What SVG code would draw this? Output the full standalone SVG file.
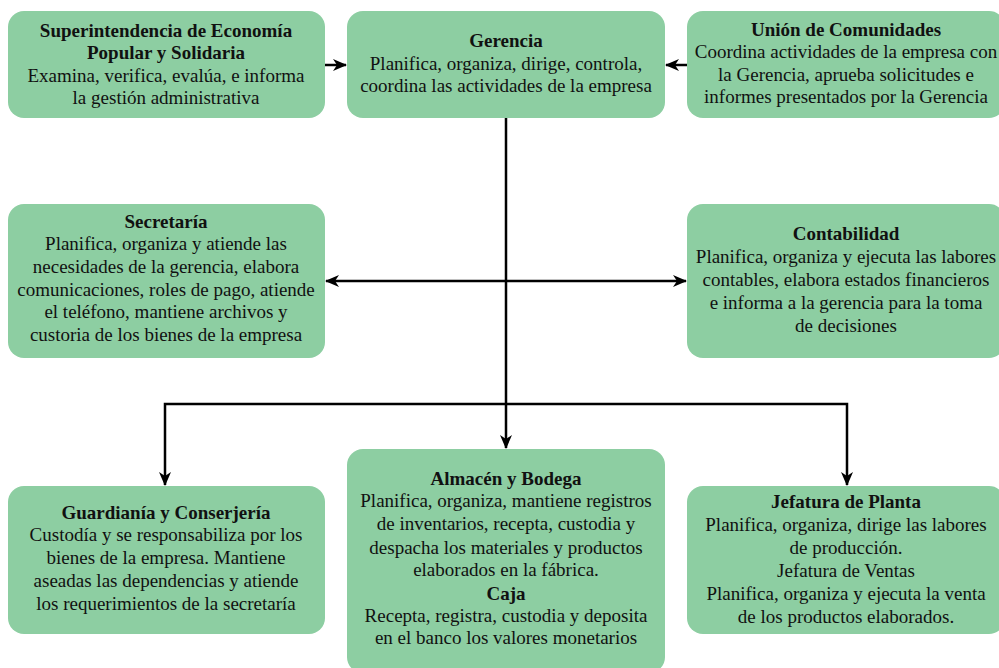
<svg xmlns="http://www.w3.org/2000/svg" width="999" height="668" viewBox="0 0 999 668">
<style>
.box{fill:#8dcea2;stroke:none}
text{font-size:19px;fill:#111;text-anchor:middle}
.b{font-weight:bold}
.c{fill:none;stroke:#000;stroke-width:2.5}
</style>
<defs>
<marker id="ah" viewBox="0 0 14 12" refX="13" refY="6" markerWidth="14" markerHeight="12" markerUnits="userSpaceOnUse" orient="auto-start-reverse">
<path d="M0,0 L14,6 L0,12 L4,6 Z" fill="#000"/>
</marker>
</defs>
<rect width="999" height="668" fill="#fff"/>
<g id="connectors">
<path class="c" d="M325,65 L346,65" marker-end="url(#ah)"/>
<path class="c" d="M687,65 L666,65" marker-end="url(#ah)"/>
<path class="c" d="M506,118 L506,448" marker-end="url(#ah)"/>
<path class="c" d="M326,281 L686,281" marker-start="url(#ah)" marker-end="url(#ah)"/>
<path class="c" d="M165,485 L165,404 L847,404 L847,485" marker-start="url(#ah)" marker-end="url(#ah)"/>
</g>
<g font-family="'Liberation Serif', 'Times New Roman', serif">
<g id="superintendencia">
<rect class="box" x="8" y="11" width="317" height="107" rx="16"/>
<text x="166" y="37" class="b">Superintendencia de Economía</text>
<text x="166" y="59" class="b">Popular y Solidaria</text>
<text x="166" y="82">Examina, verifica, evalúa, e informa</text>
<text x="166" y="104">la gestión administrativa</text>
</g>
<g id="gerencia">
<rect class="box" x="347" y="11" width="318" height="107" rx="16"/>
<text x="506" y="47" class="b">Gerencia</text>
<text x="506" y="70">Planifica, organiza, dirige, controla,</text>
<text x="506" y="92">coordina las actividades de la empresa</text>
</g>
<g id="union">
<rect class="box" x="687" y="11" width="318" height="107" rx="16"/>
<text x="846" y="36" class="b">Unión de Comunidades</text>
<text x="846" y="58">Coordina actividades de la empresa con</text>
<text x="846" y="81">la Gerencia, aprueba solicitudes e</text>
<text x="846" y="103">informes presentados por la Gerencia</text>
</g>
<g id="secretaria">
<rect class="box" x="8" y="204" width="317" height="154" rx="16"/>
<text x="166" y="228" class="b">Secretaría</text>
<text x="166" y="250">Planifica, organiza y atiende las</text>
<text x="166" y="273">necesidades de la gerencia, elabora</text>
<text x="166" y="296">comunicaciones, roles de pago, atiende</text>
<text x="166" y="318">el teléfono, mantiene archivos y</text>
<text x="166" y="341">custoria de los bienes de la empresa</text>
</g>
<g id="contabilidad">
<rect class="box" x="687" y="204" width="318" height="154" rx="16"/>
<text x="846" y="240" class="b">Contabilidad</text>
<text x="846" y="263">Planifica, organiza y ejecuta las labores</text>
<text x="846" y="286">contables, elabora estados financieros</text>
<text x="846" y="309">e informa a la gerencia para la toma</text>
<text x="846" y="332">de decisiones</text>
</g>
<g id="guardiania">
<rect class="box" x="8" y="486" width="317" height="148" rx="16"/>
<text x="166" y="519" class="b">Guardianía y Conserjería</text>
<text x="166" y="541">Custodía y se responsabiliza por los</text>
<text x="166" y="564">bienes de la empresa. Mantiene</text>
<text x="166" y="587">aseadas las dependencias y atiende</text>
<text x="166" y="610">los requerimientos de la secretaría</text>
</g>
<g id="almacen">
<rect class="box" x="347" y="449" width="318" height="224" rx="16"/>
<text x="506" y="485" class="b">Almacén y Bodega</text>
<text x="506" y="507">Planifica, organiza, mantiene registros</text>
<text x="506" y="530">de inventarios, recepta, custodia y</text>
<text x="506" y="554">despacha los materiales y productos</text>
<text x="506" y="576">elaborados en la fábrica.</text>
<text x="506" y="600" class="b">Caja</text>
<text x="506" y="622">Recepta, registra, custodia y deposita</text>
<text x="506" y="644">en el banco los valores monetarios</text>
</g>
<g id="jefatura">
<rect class="box" x="687" y="486" width="318" height="148" rx="16"/>
<text x="846" y="508" class="b">Jefatura de Planta</text>
<text x="846" y="531">Planifica, organiza, dirige las labores</text>
<text x="846" y="554">de producción.</text>
<text x="846" y="577">Jefatura de Ventas</text>
<text x="846" y="600">Planifica, organiza y ejecuta la venta</text>
<text x="846" y="623">de los productos elaborados.</text>
</g>
</g>
</svg>
